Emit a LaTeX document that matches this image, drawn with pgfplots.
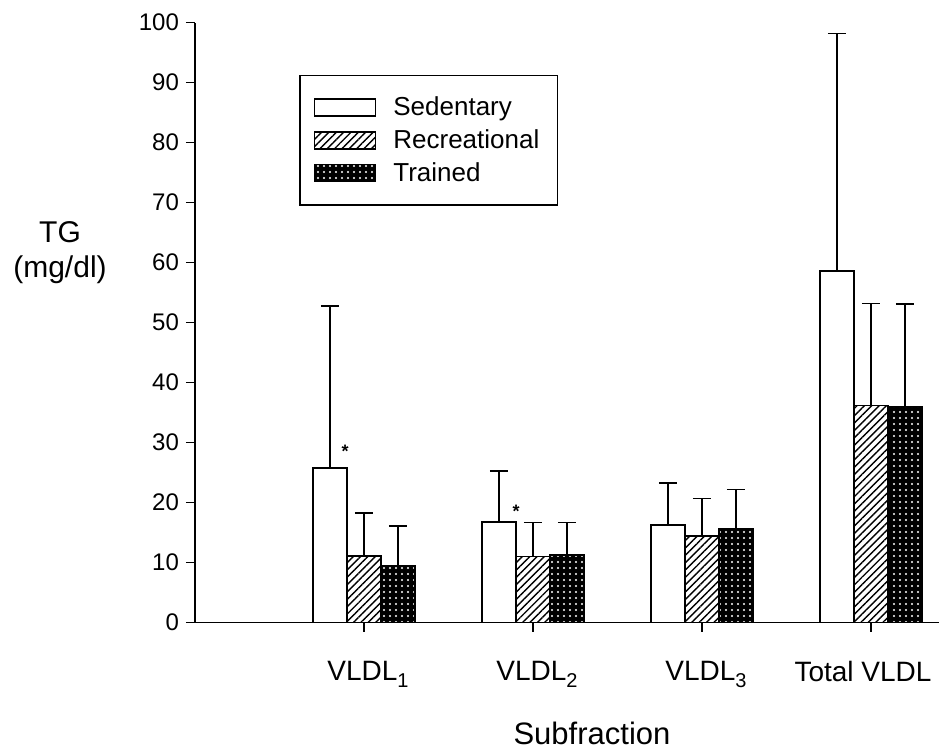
\documentclass[border=0pt]{standalone}
\usepackage{pgfplots}
\pgfplotsset{compat=1.18}
\usetikzlibrary{patterns.meta}
\usepackage{fontspec}
\setmainfont{Liberation Sans}

% values: mean and upper error (SD)
\pgfplotstableread{
x  y     e
1  25.8  27.0
2  16.8  8.5
3  16.3  7.0
4  58.6  39.6
}\sedentary
\pgfplotstableread{
x  y     e
1  11.1  7.2
2  11.0  5.7
3  14.4  6.3
4  36.2  17.0
}\recreational
\pgfplotstableread{
x  y     e
1  9.4   6.7
2  11.3  5.4
3  15.6  6.6
4  36.0  17.1
}\trained

\newcommand\sub[1]{\raisebox{-0.5ex}{\fontsize{10}{11}\selectfont #1}}

\begin{document}
\begin{tikzpicture}
\begin{axis}[scale only axis, width=380.25pt, height=300pt,
  ybar=0pt, bar width=17pt,
  xmin=0, xmax=4.5, ymin=0, ymax=100,
  axis x line=bottom, axis y line=left, axis line style={-, line width=0.8pt},
  xtick={1,2,3,4}, xticklabels={VLDL\sub{1},VLDL\sub{2},VLDL\sub{3},\hspace*{-12pt}Total VLDL},
  ytick={0,10,...,100},
  tick align=outside, major tick length=4.5pt, tick style={line width=0.8pt, black},
  x tick label style={font=\fontsize{14}{16}\selectfont, yshift=-11pt, xshift=2pt, anchor=north},
  y tick label style={font=\fontsize{12}{14}\selectfont},
  /pgf/number format/assume math mode=true,
  xlabel={Subfraction}, xlabel style={font=\fontsize{15.5}{18}\selectfont, at={(axis description cs:0.522,-0.184)}, anchor=center},
  ylabel={TG\\(mg/dl)}, ylabel style={font=\fontsize{15}{17.5}\selectfont, align=center, rotate=-90, at={(axis description cs:-0.1775,0.617)}, anchor=center},
  legend style={at={(axis description cs:0.137,0.913)}, anchor=north west, draw=black, line width=0.7pt,
    font=\fontsize{13}{15}\selectfont, row sep=1.5pt, inner xsep=7pt, inner ysep=8.5pt},
  legend image code/.code={\draw[#1, line width=0.7pt] (0pt,-4.25pt) rectangle (30.5pt,4.25pt); \path (37pt,0pt);},
  legend cell align=left,
  error bars/y dir=plus, error bars/y explicit,
  error bars/error bar style={line width=0.8pt, black},
  error bars/error mark options={rotate=90, mark size=4.5pt, line width=0.8pt, black},
]
\addplot[draw=black, line width=0.8pt, fill=white] table[x=x, y=y, y error=e] {\sedentary};
\addplot[draw=black, line width=0.8pt, fill=white, postaction={pattern={Lines[angle=45, distance=2.6pt, line width=0.7pt]}, pattern color=black}] table[x=x, y=y, y error=e] {\recreational};
\addplot[draw=black, line width=0.8pt, fill=black, postaction={pattern={Dots[distance=3pt, radius=0.6pt]}, pattern color=white}] table[x=x, y=y, y error=e] {\trained};
\legend{Sedentary, Recreational, Trained}
\node[font=\bfseries\fontsize{9}{10}\selectfont] at (axis cs:0.888,28.5) {*};
\node[font=\bfseries\fontsize{9}{10}\selectfont] at (axis cs:1.9,18.5) {*};
\end{axis}
\pgfresetboundingbox
\useasboundingbox (-97.5pt,-62.65pt) rectangle (372pt,311.35pt);
\end{tikzpicture}
\end{document}
